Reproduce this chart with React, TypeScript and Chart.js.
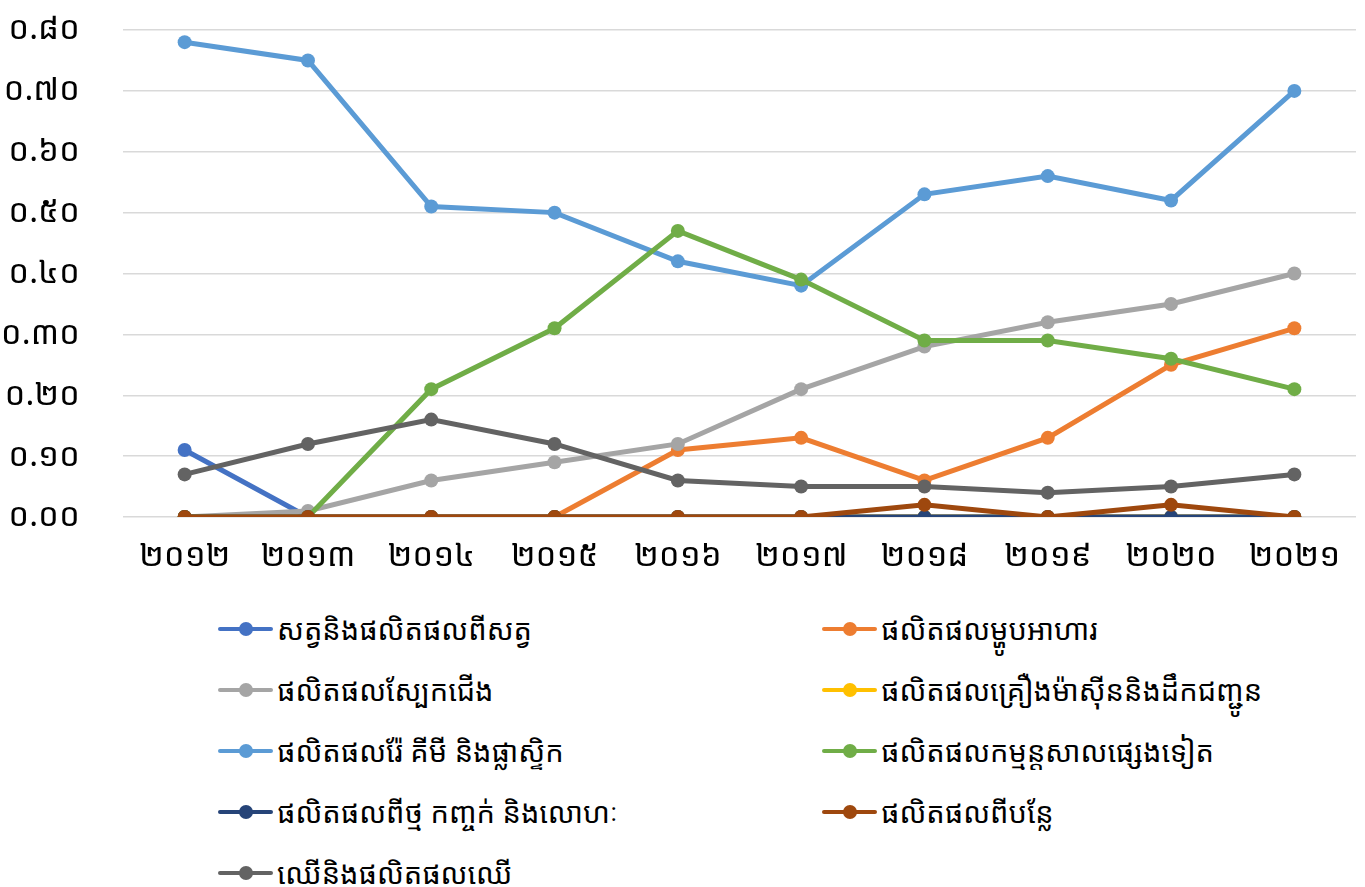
import React, { useEffect, useRef } from "react";
import { Chart, registerables } from "chart.js";

Chart.register(...registerables);

const years = ["២០១២", "២០១៣", "២០១៤", "២០១៥", "២០១៦", "២០១៧", "២០១៨", "២០១៩", "២០២០", "២០២១"];

const seriesNames = [
  "សត្វនិងផលិតផលពីសត្វ",
  "ផលិតផលម្ហូបអាហារ",
  "ផលិតផលស្បែកជើង",
  "ផលិតផលគ្រឿងម៉ាស៊ីននិងដឹកជញ្ជូន",
  "ផលិតផលរ៉ែ គីមី និងផ្លាស្ទិក",
  "ផលិតផលកម្មន្តសាលផ្សេងទៀត",
  "ផលិតផលពីថ្ម កញ្ចក់ និងលោហៈ",
  "ផលិតផលពីបន្លែ",
  "ឈើនិងផលិតផលឈើ",
];

const animals = [0.11, 0, 0, 0, 0, 0, 0, 0, 0, 0];
const food = [0, 0, 0, 0, 0.11, 0.13, 0.06, 0.13, 0.25, 0.31];
const footwear = [0, 0.01, 0.06, 0.09, 0.12, 0.21, 0.28, 0.32, 0.35, 0.4];
const machinery = [0, 0, 0, 0, 0, 0, 0, 0, 0, 0];
const mineralChem = [0.78, 0.75, 0.51, 0.5, 0.42, 0.38, 0.53, 0.56, 0.52, 0.7];
const otherManuf = [0, 0, 0.21, 0.31, 0.47, 0.39, 0.29, 0.29, 0.26, 0.21];
const stoneMetal = [0, 0, 0, 0, 0, 0, 0, 0, 0, 0];
const vegetable = [0, 0, 0, 0, 0, 0, 0.02, 0, 0.02, 0];
const wood = [0.07, 0.12, 0.16, 0.12, 0.06, 0.05, 0.05, 0.04, 0.05, 0.07];

const seriesValues = [animals, food, footwear, machinery, mineralChem, otherManuf, stoneMetal, vegetable, wood];
const seriesColors = ["#4472C4", "#ED7D31", "#A5A5A5", "#FFC000", "#5B9BD5", "#70AD47", "#264478", "#9E480E", "#636363"];

const khmerDigits = ["០", "១", "២", "៣", "៤", "៥", "៦", "៧", "៨", "៩"];
const toKhmer = (s: string) => s.replace(/[0-9]/g, (d) => khmerDigits[Number(d)]);

const FONT = '"Noto Sans Khmer", "Khmer OS", "Khmer OS System", "Noto Sans", sans-serif';

export default function App() {
  const ref = useRef<HTMLCanvasElement | null>(null);

  useEffect(() => {
    document.body.style.margin = "0";
    const ctx = ref.current!.getContext("2d")!;
    const chart = new Chart(ctx, {
      type: "line",
      data: {
        labels: years,
        datasets: seriesNames.map((name, i) => ({
          label: name,
          data: seriesValues[i],
          borderColor: seriesColors[i],
          backgroundColor: seriesColors[i],
          borderWidth: 5,
          pointRadius: 7,
          pointHoverRadius: 7,
          pointBorderWidth: 0,
          tension: 0,
          order: seriesNames.length - i,
        })),
      },
      options: {
        responsive: false,
        animation: false,
        layout: { padding: { top: 30, right: 9, left: 0, bottom: 0 } },
        plugins: { legend: { display: false }, tooltip: { enabled: false } },
        scales: {
          x: {
            offset: true,
            grid: { display: false, drawTicks: false },
            border: { display: false },
            ticks: { color: "#000", font: { family: FONT, size: 33 }, padding: 20, maxRotation: 0 },
            afterFit: (s: any) => {
              s.height = 83;
              s.paddingLeft = 0;
              s.paddingRight = 0;
            },
          },
          y: {
            min: 0,
            max: 0.8,
            grid: { color: "#D9D9D9", lineWidth: 1.5, drawTicks: false },
            border: { display: false },
            ticks: {
              stepSize: 0.1,
              color: "#000",
              font: { family: FONT, size: 33 },
              padding: 43,
              callback: (v: any) => toKhmer(Number(v).toFixed(2)),
            },
            afterFit: (s: any) => {
              s.width = 123;
              s.paddingTop = 0;
              s.paddingBottom = 0;
            },
          },
        },
      },
    });
    return () => chart.destroy();
  }, []);

  const rowH = 61;
  return (
    <div style={{ position: "relative", width: 1365, height: 887, background: "#fff", overflow: "hidden" }}>
      <canvas ref={ref} width={1365} height={600} style={{ display: "block" }} />
      {seriesNames.map((name, i) => {
        const col = i % 2;
        const row = Math.floor(i / 2);
        const left = col === 0 ? 218 : 822;
        const cy = 629 + row * rowH;
        return (
          <div
            key={name}
            style={{
              position: "absolute",
              left,
              top: cy - 20,
              height: 40,
              display: "flex",
              alignItems: "center",
              whiteSpace: "nowrap",
            }}
          >
            <div style={{ position: "relative", width: 55, height: 14, marginRight: 4 }}>
              <div
                style={{
                  position: "absolute",
                  left: 0,
                  right: 0,
                  top: 5,
                  height: 4,
                  borderRadius: 2,
                  background: seriesColors[i],
                }}
              />
              <div
                style={{
                  position: "absolute",
                  left: 20.5,
                  top: 0,
                  width: 14,
                  height: 14,
                  borderRadius: 7,
                  background: seriesColors[i],
                }}
              />
            </div>
            <span style={{ fontFamily: FONT, fontSize: 29, color: "#000", lineHeight: "40px" }}>{name}</span>
          </div>
        );
      })}
    </div>
  );
}
